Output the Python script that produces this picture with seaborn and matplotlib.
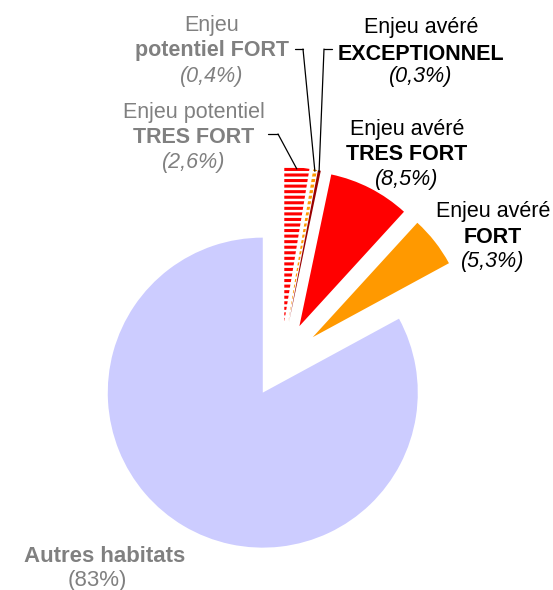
import matplotlib
matplotlib.use("Agg")
import numpy as np
import matplotlib.pyplot as plt
from matplotlib.lines import Line2D
import seaborn as sns

# Parts of the habitat surface, in reading order clockwise from 12 o'clock
categories = [
    "Enjeu potentiel TRES FORT",
    "Enjeu potentiel FORT",
    "Enjeu avéré EXCEPTIONNEL",
    "Enjeu avéré TRES FORT",
    "Enjeu avéré FORT",
    "Autres habitats",
]
shares = [2.6, 0.4, 0.3, 8.5, 5.3, 83.0]
share_labels = ["(2,6%)", "(0,4%)", "(0,3%)", "(8,5%)", "(5,3%)", "(83%)"]

sns.set_theme(style="white")
plt.rcParams["font.family"] = ["Liberation Sans", "DejaVu Sans"]
plt.rcParams["hatch.linewidth"] = 2.2

W, H = 553, 590
fig = plt.figure(figsize=(W / 100, H / 100), dpi=100)
ax = fig.add_axes([0, 0, 1, 1])

# pie geometry in pixels: centre and radius
CX, CY, R = 281, 362, 155

colors = ["white", "white", "#990000", "#FF0000", "#FF9900", "#CCCCFF"]
hatch_colors = ["#FF0000", "#FF9900", None, None, None, None]
hatches = ["---", "---", None, None, None, None]
explode = [0.26, 0.26, 0.26, 0.26, 0.26, 0.23]

wedges, _ = ax.pie(
    shares,
    colors=colors,
    startangle=90,
    counterclock=False,
    explode=explode,
    radius=1.0,
    wedgeprops=dict(linewidth=0),
)
for w, hc, h in zip(wedges, hatch_colors, hatches):
    if h:
        w.set_hatch(h)
        w.set_edgecolor(hc)
        w.set_linewidth(0)

ax.set_aspect("auto")
ax.set_xlim(-CX / R, (W - CX) / R)
ax.set_ylim(-(H - CY) / R, CY / R)
ax.axis("off")


def at(x, y):
    """Pixel position (from top-left) to figure fraction."""
    return (x / W, 1 - y / H)


def line(x, y, text, color, weight="normal", style="normal", size=15.5):
    fig.text(*at(x, y), text, color=color, fontweight=weight, fontstyle=style,
             fontsize=size, ha="center", va="baseline")


GRAY = "#808080"
BLACK = "black"

# Potential issues (grey)
line(212, 31, "Enjeu", GRAY)
line(212, 56, "potentiel FORT", GRAY, weight="bold")
line(212, 82, share_labels[1], GRAY, style="italic")

line(194, 118, "Enjeu potentiel", GRAY)
line(194, 143, "TRES FORT", GRAY, weight="bold")
line(194, 168, share_labels[0], GRAY, style="italic")

# Confirmed issues (black)
line(421, 33, "Enjeu avéré", BLACK)
line(421, 60, "EXCEPTIONNEL", BLACK, weight="bold")
line(421, 82, share_labels[2], BLACK, style="italic")

line(407, 135, "Enjeu avéré", BLACK)
line(407, 160, "TRES FORT", BLACK, weight="bold")
line(407, 185, share_labels[3], BLACK, style="italic")

line(493, 217, "Enjeu avéré", BLACK)
line(493, 243, "FORT", BLACK, weight="bold")
line(493, 267, share_labels[4], BLACK, style="italic")

# Remaining habitats
line(105, 562, "Autres habitats", GRAY, weight="bold", size=16)
line(97, 586, share_labels[5], GRAY, size=16)

# Leader lines from the small slices to their labels
total = sum(shares)
cum = np.cumsum([0] + shares[:-1])
mid_deg = 360 * (cum + np.array(shares) / 2) / total


def wedge_tip(i, r=0.99):
    th = np.radians(mid_deg[i])
    off = explode[i]
    return ((off + r) * np.sin(th), (off + r) * np.cos(th))


leaders = [
    (0, (268, 134), (278, 134)),
    (1, (295, 49), (303, 49)),
    (2, (332, 49), (324, 49)),
]
for i, start, elbow in leaders:
    fig.add_artist(Line2D([start[0] / W, elbow[0] / W],
                          [1 - start[1] / H, 1 - elbow[1] / H],
                          transform=fig.transFigure, color="black", lw=0.9))
    ax.annotate("", xy=wedge_tip(i), xycoords="data",
                xytext=at(*elbow), textcoords="figure fraction",
                arrowprops=dict(arrowstyle="-", color="black", lw=0.9,
                                shrinkA=0, shrinkB=0))

fig.savefig("out.png", dpi=100, facecolor="white")
